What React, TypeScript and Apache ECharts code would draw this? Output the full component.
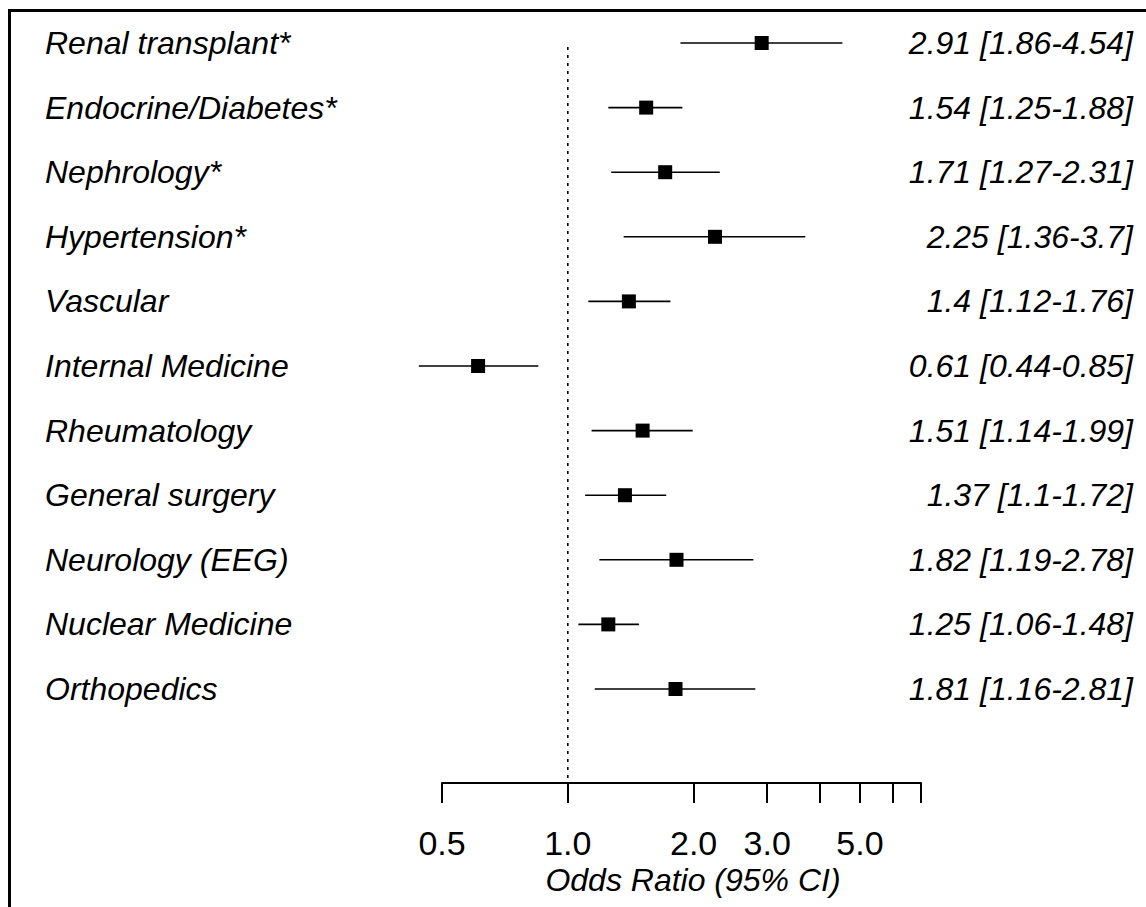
import React, { useEffect, useRef } from "react";
import * as echarts from "echarts";

const CATEGORIES = [
  "Renal transplant*",
  "Endocrine/Diabetes*",
  "Nephrology*",
  "Hypertension*",
  "Vascular",
  "Internal Medicine",
  "Rheumatology",
  "General surgery",
  "Neurology (EEG)",
  "Nuclear Medicine",
  "Orthopedics",
];
const ODDS_RATIO = [2.91, 1.54, 1.71, 2.25, 1.4, 0.61, 1.51, 1.37, 1.82, 1.25, 1.81];
const CI_LOWER = [1.86, 1.25, 1.27, 1.36, 1.12, 0.44, 1.14, 1.1, 1.19, 1.06, 1.16];
const CI_UPPER = [4.54, 1.88, 2.31, 3.7, 1.76, 0.85, 1.99, 1.72, 2.78, 1.48, 2.81];
const AXIS_TICKS = [0.5, 1, 2, 3, 4, 5, 6, 7];
const AXIS_LABELS = [0.5, 1, 2, 3, 5];
const AXIS_TITLE = "Odds Ratio (95% CI)";
const NULL_VALUE = 1;

const FONT = "'Liberation Sans', Arial, Helvetica, sans-serif";
const lg = (v: number) => Math.log10(v);

export default function App() {
  const ref = useRef<HTMLDivElement>(null);

  useEffect(() => {
    if (!ref.current) return;
    const chart = echarts.init(ref.current, null, { renderer: "svg" });

    const rows = CATEGORIES.map((c, i) => [
      lg(ODDS_RATIO[i]),
      i + 1,
      lg(CI_LOWER[i]),
      lg(CI_UPPER[i]),
      i,
    ]);

    const yMin = 1;
    const yMax = 12.455;

    const option: any = {
      animation: false,
      backgroundColor: "#ffffff",
      grid: { left: 442, right: 225, top: 43, bottom: 124, containLabel: false },
      xAxis: {
        type: "value",
        min: lg(0.5),
        max: lg(7),
        splitLine: { show: false },
        axisLine: { show: true, onZero: false, lineStyle: { color: "#000", width: 2 } },
        axisTick: {
          show: true,
          length: 20,
          customValues: AXIS_TICKS.map(lg),
          lineStyle: { color: "#000", width: 2 },
        },
        axisLabel: {
          show: true,
          customValues: AXIS_LABELS.map(lg),
          formatter: (v: number) => Math.pow(10, v).toFixed(1),
          margin: 60,
          verticalAlign: "middle",
          color: "#000",
          fontSize: 34,
          fontWeight: "normal",
          fontFamily: FONT,
        },
      },
      yAxis: {
        type: "value",
        inverse: true,
        min: yMin,
        max: yMax,
        show: false,
      },
      graphic: [
        {
          type: "rect",
          shape: { x: 9.5, y: 10.5, width: 1300, height: 1100 },
          style: { fill: "none", stroke: "#000", lineWidth: 3 },
          silent: true,
        },
        {
          type: "text",
          x: 693,
          y: 880,
          style: {
            text: AXIS_TITLE,
            fill: "#000",
            fontSize: 32,
            fontStyle: "italic",
            fontFamily: FONT,
            align: "center",
            verticalAlign: "middle",
          },
        },
      ],
      series: [
        {
          type: "line",
          data: [
            [lg(NULL_VALUE), 1.06],
            [lg(NULL_VALUE), yMax],
          ],
          symbol: "none",
          lineStyle: { color: "#000", width: 1.6, type: [3, 5] },
          silent: true,
        },
        {
          type: "custom",
          clip: false,
          data: rows,
          renderItem: (params: any, api: any) => {
            const y = api.value(1);
            const i = api.value(4);
            const pOR = api.coord([api.value(0), y]);
            const pLo = api.coord([api.value(2), y]);
            const pHi = api.coord([api.value(3), y]);
            const label = `${ODDS_RATIO[i]} [${CI_LOWER[i]}-${CI_UPPER[i]}]`;
            return {
              type: "group",
              children: [
                {
                  type: "line",
                  shape: { x1: pLo[0], y1: pLo[1], x2: pHi[0], y2: pHi[1] },
                  style: { stroke: "#000", lineWidth: 1.6 },
                },
                {
                  type: "rect",
                  shape: { x: pOR[0] - 7, y: pOR[1] - 7, width: 14, height: 14 },
                  style: { fill: "#000" },
                },
                {
                  type: "text",
                  x: 45,
                  y: pOR[1],
                  style: {
                    text: CATEGORIES[i],
                    fill: "#000",
                    fontSize: 32,
                    fontStyle: "italic",
                    fontFamily: FONT,
                    align: "left",
                    verticalAlign: "middle",
                  },
                },
                {
                  type: "text",
                  x: 1133,
                  y: pOR[1],
                  style: {
                    text: label,
                    fill: "#000",
                    fontSize: 32,
                    fontStyle: "italic",
                    fontFamily: FONT,
                    align: "right",
                    verticalAlign: "middle",
                  },
                },
              ],
            };
          },
        },
      ],
    };

    chart.setOption(option);
    return () => chart.dispose();
  }, []);

  return (
    <div
      ref={ref}
      style={{ position: "fixed", left: 0, top: 0, width: 1146, height: 907, background: "#fff" }}
    />
  );
}
